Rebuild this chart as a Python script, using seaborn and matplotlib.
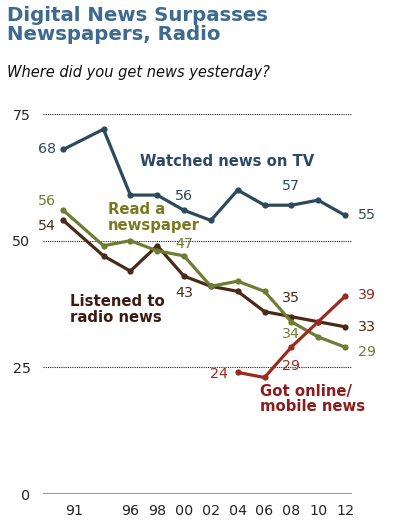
import pandas as pd
import numpy as np
import matplotlib.pyplot as plt
import seaborn as sns
from matplotlib.transforms import ScaledTranslation

#----------------------------------
# Data
#----------------------------------
years = [1991, 1994, 1996, 1998, 2000, 2002, 2004, 2006, 2008, 2010, 2012]
tv = [68, 72, 59, 59, 56, 54, 60, 57, 57, 58, 55]
newspaper = [56, 49, 50, 48, 47, 41, 42, 40, 34, 31, 29]
radio = [54, 47, 44, 49, 43, 41, 40, 36, 35, 34, 33]
online_years = [2004, 2006, 2008, 2010, 2012]
online = [24, 23, 29, 34, 39]

tick_years = [1991, 1996, 1998, 2000, 2002, 2004, 2006, 2008, 2010, 2012]
tick_labels = ["91", "96", "98", "00", "02", "04", "06", "08", "10", "12"]

colors = {
    "tv": "#2c4a5e",
    "newspaper": "#6f7d33",
    "radio": "#4a2a16",
    "online": "#9c2b1f",
}

df = pd.concat([
    pd.DataFrame({"year": years, "pct": radio, "series": "radio"}),
    pd.DataFrame({"year": years, "pct": newspaper, "series": "newspaper"}),
    pd.DataFrame({"year": online_years, "pct": online, "series": "online"}),
    pd.DataFrame({"year": years, "pct": tv, "series": "tv"}),
], ignore_index=True)

#----------------------------------
# Figure
#----------------------------------
sns.set_theme(style="white")
plt.rcParams["font.family"] = ["DejaVu Sans"]

fig = plt.figure(figsize=(4.0, 5.32), dpi=100)
ax = fig.add_axes([0.1075, 0.0714, 0.7725, 0.7143])

sns.lineplot(data=df, x="year", y="pct", hue="series", palette=colors,
             marker="o", markersize=4.5, markeredgewidth=0, linewidth=2.3,
             legend=False, ax=ax, clip_on=False)

ax.set_xlim(1989.49, 2012.52)
ax.set_ylim(0, 75)
for s in ax.spines.values():
    s.set_visible(False)

for g in [25, 50, 75]:
    ax.axhline(g, color="#222222", linestyle=(0, (1, 1)), linewidth=0.8, zorder=0)
ax.axhline(0, color="#999999", linewidth=1.5, zorder=0)

ax.set_yticks([0, 25, 50, 75])
ax.set_yticklabels(["0", "25", "50", "75"], fontsize=10.3)
ax.set_xticks(tick_years)
ax.set_xticklabels(tick_labels, fontsize=10.3)
ax.tick_params(axis="y", length=0, pad=9)
ax.tick_params(axis="x", length=0, pad=7.5)
ax.set_xlabel("")
ax.set_ylabel("")
# "91" sits a bit right of its point in the original
ax.get_xticklabels()[0].set_transform(
    ax.get_xticklabels()[0].get_transform() + ScaledTranslation(0.11, 0, fig.dpi_scale_trans))

#----------------------------------
# Data labels (series, year, dx px, dy px, ha)
#----------------------------------
values = {"tv": dict(zip(years, tv)),
          "newspaper": dict(zip(years, newspaper)),
          "radio": dict(zip(years, radio)),
          "online": dict(zip(online_years, online))}

point_labels = [
    ("tv", 1991, -7, 0, "right"),
    ("tv", 2000, 0, 14, "center"),
    ("tv", 2008, 0, 19, "center"),
    ("tv", 2012, 13, 0, "left"),
    ("newspaper", 1991, -7, 9, "right"),
    ("newspaper", 2000, 0, 12, "center"),
    ("newspaper", 2008, 0, -12, "center"),
    ("newspaper", 2012, 13, -5, "left"),
    ("radio", 1991, -7, -6, "right"),
    ("radio", 2000, 0, -17, "center"),
    ("radio", 2008, 0, 19, "center"),
    ("radio", 2012, 13, 0, "left"),
    ("online", 2004, -10, -2, "right"),
    ("online", 2008, 0, -19, "center"),
    ("online", 2012, 13, 1, "left"),
]
for key, yr, dx, dy, ha in point_labels:
    ax.annotate(str(values[key][yr]), (yr, values[key][yr]),
                xytext=(dx, dy), textcoords="offset pixels",
                ha=ha, va="center", fontsize=10.3, color=colors[key])

#----------------------------------
# Series names
#----------------------------------
ax.text(1996.7, 65.7, "Watched news on TV", fontsize=10.7, fontweight="bold",
        color="#2b4a68", ha="left", va="center")
ax.text(1994.3, 54.6, "Read a\nnewspaper", fontsize=10.7, fontweight="bold",
        color="#7b7a22", ha="left", va="center", linespacing=1.05)
ax.text(1991.5, 36.4, "Listened to\nradio news", fontsize=10.7, fontweight="bold",
        color="#3c1c12", ha="left", va="center", linespacing=1.05)
ax.text(2005.7, 18.75, "Got online/\nmobile news", fontsize=10.7, fontweight="bold",
        color="#8e1c1c", ha="left", va="center", linespacing=1.05)

#----------------------------------
# Title
#----------------------------------
fig.text(7 / 400, 1 - 6 / 532, "Digital News Surpasses\nNewspapers, Radio",
         fontsize=14.2, fontweight="bold", color="#3d6a8e",
         ha="left", va="top", linespacing=1.0)
fig.text(7 / 400, 1 - 72 / 532, "Where did you get news yesterday?",
         fontsize=10.5, style="italic", color="#111111", ha="left", va="center")

fig.savefig("out.png", dpi=100)
